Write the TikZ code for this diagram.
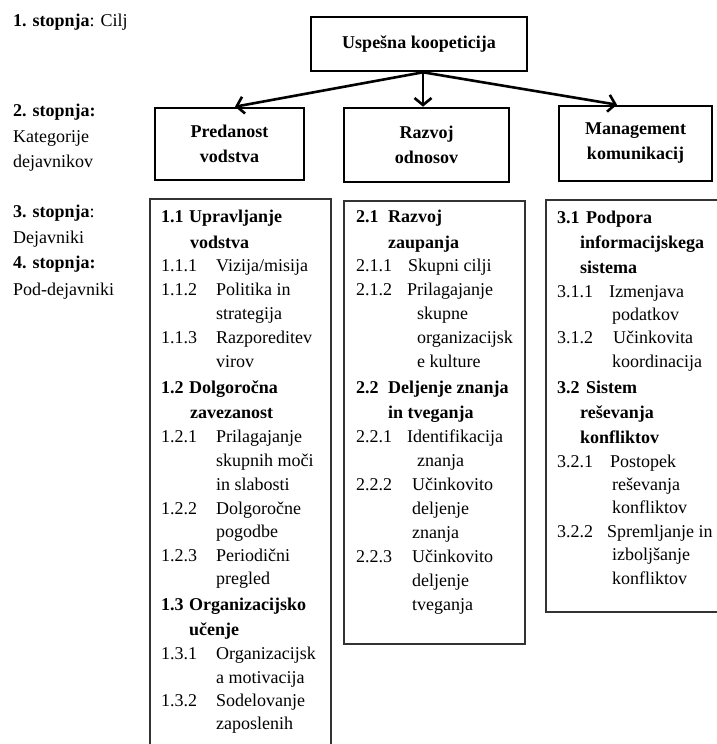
\documentclass[tikz,border=0pt]{standalone}
\usepackage{fontspec}
\setmainfont{Liberation Serif}
\usetikzlibrary{arrows.meta}

\newcommand{\fsz}{\fontsize{18}{25}\selectfont}

\tikzset{
	box/.style={draw, line width=2.6pt, align=center, inner sep=0pt, font=\fsz\bfseries},
	lst/.style={draw=black!80, line width=1.2pt},
	arr/.style={line width=2.6pt, -{Straight Barb[length=7pt,width=17pt]}},
	txt/.style={anchor=base west, inner sep=0pt, font=\fsz},
	hd/.style={txt, font=\fsz\bfseries},
}

\begin{document}
\begin{tikzpicture}[x=1pt, y=-1pt]
	\useasboundingbox (0,0) rectangle (716,744);
	
	% levels on the left
	\node[txt] (lv1) at (13,27) {\textbf{1. stopnja}: Cilj};
	\node[txt] (lv2) at (13,116) {\textbf{2. stopnja:}};
	\node[txt] (lv3) at (13,142) {Kategorije};
	\node[txt] (lv4) at (13,167) {dejavnikov};
	\node[txt] (lv5) at (13,217) {\textbf{3. stopnja}:};
	\node[txt] (lv6) at (13,243) {Dejavniki};
	\node[txt] (lv7) at (13,268) {\textbf{4. stopnja:}};
	\node[txt] (lv8) at (13,295) {Pod-dejavniki};
	
	% goal and categories
	\node[box, minimum width=216pt, minimum height=54pt] (goal) at (419,44) {Uspešna koopeticija};
	\node[box, minimum width=149pt, minimum height=72pt] (cat1) at (229.5,144) {Predanost\\vodstva};
	\node[box, minimum width=165pt, minimum height=74pt] (cat2) at (426.5,145) {Razvoj\\odnosov};
	\node[box, minimum width=153pt, minimum height=75pt] (cat3) at (635.5,143.5) {Management\\komunikacij};
	
	\draw[arr] ([xshift=4pt]goal.south) -- ([xshift=5.5pt]cat1.north);
	\draw[arr] ([xshift=4pt]goal.south) -- ([xshift=-3.5pt]cat2.north);
	\draw[arr] ([xshift=4pt]goal.south) -- ([xshift=-18.5pt]cat3.north);
	
	% factor lists
	\draw[lst] (150,199) rectangle (331,760);
	\draw[lst] (344,201) rectangle (525,644);
	\draw[lst] (546,200) rectangle (730,612);
	
	\foreach \x/\y/\t [count=\i] in {161/222/1.1, 189/222/Upravljanje, 190/248/vodstva,
			161/393/1.2, 189/393/Dolgoročna, 190/418/zavezanost,
			161/610/1.3, 189/610/Organizacijsko, 189/635/učenje}
		\node[hd] (a\i) at (\x,\y) {\t};
	\foreach \x/\y/\t [count=\i] in {161/271/1.1.1, 216/271/{Vizija/misija},
			161/295/1.1.2, 216/295/Politika in, 216/319/strategija,
			161/343/1.1.3, 216/343/Razporeditev, 216/367/virov,
			161/442/1.2.1, 216/442/Prilagajanje, 216/466/skupnih moči, 216/490/in slabosti,
			161/514/1.2.2, 216/514/Dolgoročne, 216/537/pogodbe,
			161/561/1.2.3, 216/561/Periodični, 216/584/pregled,
			161/659/1.3.1, 216/659/Organizacijsk, 216/683/a motivacija,
			161/706/1.3.2, 216/706/Sodelovanje, 216/729/zaposlenih}
		\node[txt] (aa\i) at (\x,\y) {\t};
	
	\foreach \x/\y/\t [count=\i] in {356/222/2.1, 388/222/Razvoj, 388/248/zaupanja,
			356/393/2.2, 388/393/Deljenje znanja, 388/418/in tveganja}
		\node[hd] (b\i) at (\x,\y) {\t};
	\foreach \x/\y/\t [count=\i] in {356/271/2.1.1, 408/271/Skupni cilji,
			356/295/2.1.2, 407/295/Prilagajanje, 417/319/skupne, 417/343/organizacijsk, 417/367/e kulture,
			356/442/2.2.1, 407/442/Identifikacija, 417/466/znanja,
			356/490/2.2.2, 412/490/Učinkovito, 412/514/deljenje, 412/538/znanja,
			356/562/2.2.3, 412/562/Učinkovito, 412/586/deljenje, 412/610/tveganja}
		\node[txt] (bb\i) at (\x,\y) {\t};
	
	\foreach \x/\y/\t [count=\i] in {557/223/3.1, 586/223/Podpora, 580/248/informacijskega, 580/273/sistema,
			557/393/3.2, 586/393/Sistem, 580/418/reševanja, 580/443/konfliktov}
		\node[hd] (c\i) at (\x,\y) {\t};
	\foreach \x/\y/\t [count=\i] in {557/297/3.1.1, 609/297/Izmenjava, 612/320/podatkov,
			557/343/3.1.2, 613/343/Učinkovita, 612/367/koordinacija,
			557/467/3.2.1, 610/467/Postopek, 612/490/reševanja, 612/513/konfliktov,
			557/537/3.2.2, 607/537/Spremljanje in, 612/560/izboljšanje, 612/584/konfliktov}
		\node[txt] (cc\i) at (\x,\y) {\t};
\end{tikzpicture}
\end{document}
